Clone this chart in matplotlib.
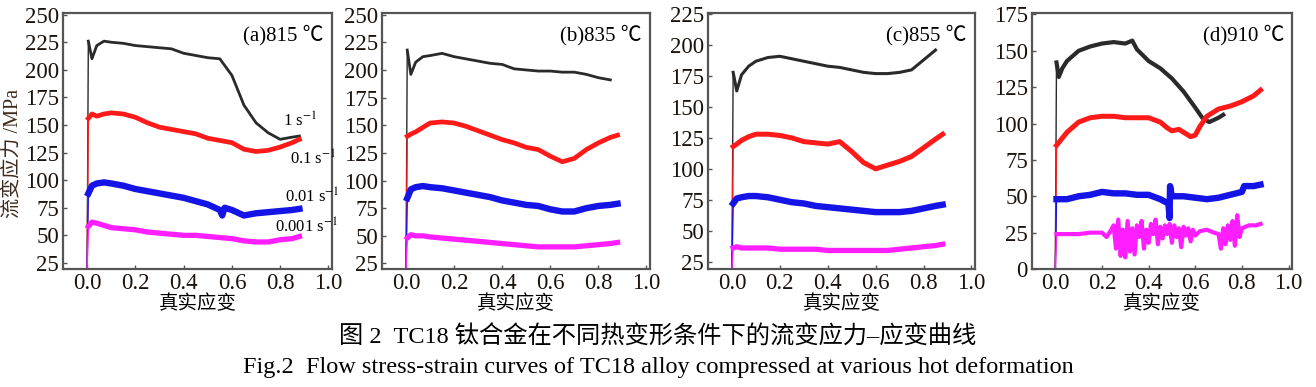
import matplotlib
matplotlib.use('Agg')
import matplotlib.pyplot as plt

plt.rcParams['font.family'] = ['Liberation Serif', 'Noto Sans CJK SC']
plt.rcParams['mathtext.fontset'] = 'stix'

# strain grids and flow stress (MPa)
g = [0, 0.005, 0.02, 0.04, 0.07, 0.1, 0.15, 0.2, 0.25, 0.3, 0.35, 0.4, 0.45,
     0.5, 0.55, 0.6, 0.65, 0.7, 0.75, 0.8, 0.85, 0.88]

# (a) 815 C
a_x_black = g
a_black = [20, 226, 210, 222, 226, 225, 224, 222, 221, 220, 219, 215, 213,
           211, 210, 195, 168, 152, 143, 137, 139, 140]
a_x_red = g
a_red = [20, 156, 160, 158, 160, 161, 160, 157, 152, 148, 146, 144, 142,
         138, 136, 134, 128, 126, 127, 130, 134, 137]
a_x_blue = [0, 0.005, 0.02, 0.04, 0.07, 0.1, 0.15, 0.2, 0.25, 0.3, 0.35, 0.4,
            0.45, 0.5, 0.55, 0.56, 0.57, 0.6, 0.65, 0.7, 0.75, 0.8, 0.85, 0.88]
a_blue = [20, 88, 95, 97, 98, 97, 95, 92, 90, 88, 86, 84, 81, 78, 73, 68, 75,
          73, 68, 70, 71, 72, 73, 74]
a_x_mag = g
a_mag = [20, 58, 62, 61, 59, 57, 56, 55, 53, 52, 51, 50, 50, 49, 48, 47, 45,
         44, 44, 46, 47, 49]

# (b) 835 C
b_x_black = g[:-1]
b_black = [20, 218, 196, 207, 212, 213, 215, 212, 210, 208, 206, 205, 201,
           200, 199, 199, 198, 198, 196, 193, 191]
b_x_red = g
b_red = [20, 140, 142, 144, 148, 152, 153, 152, 149, 145, 141, 137, 134,
         130, 128, 122, 117, 120, 128, 134, 139, 141]
b_x_blue = g
b_blue = [20, 84, 92, 94, 95, 94, 93, 91, 89, 87, 85, 82, 80, 78, 77, 74, 72,
          72, 75, 77, 78, 79]
b_x_mag = g
b_mag = [20, 48, 51, 50, 50, 49, 48, 47, 46, 45, 44, 43, 42, 41, 40, 40, 40,
         40, 41, 42, 43, 44]

# (c) 855 C
c_x_black = g[:-1]
c_black = [19, 178, 163, 176, 183, 187, 190, 191, 189, 187, 185, 183, 182,
           180, 178, 177, 177, 178, 180, 188, 196]
c_x_red = g
c_red = [19, 118, 120, 123, 126, 128, 128, 127, 125, 122, 121, 120, 122,
         114, 105, 100, 103, 106, 110, 117, 124, 128]
c_x_blue = g
c_blue = [19, 72, 76, 77, 78, 78, 77, 75, 73, 72, 70, 69, 68, 67, 66, 65, 65,
          65, 66, 68, 70, 71]
c_x_mag = g
c_mag = [19, 36, 37, 36, 36, 36, 36, 35, 35, 35, 35, 34, 34, 34, 34, 34, 34,
         35, 36, 37, 38, 39]

# (d) 910 C
d_x_black = [0, 0.005, 0.015, 0.03, 0.05, 0.1, 0.15, 0.2, 0.25, 0.3, 0.33,
             0.35, 0.4, 0.45, 0.5, 0.55, 0.6, 0.63, 0.66, 0.7, 0.72]
d_black = [0, 142, 132, 138, 143, 150, 153, 155, 156, 155, 157, 151, 143,
           138, 131, 122, 111, 104, 101, 104, 106]
d_x_red = [0, 0.005, 0.02, 0.05, 0.1, 0.15, 0.2, 0.25, 0.3, 0.35, 0.4, 0.45,
           0.48, 0.5, 0.53, 0.55, 0.58, 0.6, 0.62, 0.65, 0.7, 0.75, 0.8, 0.85,
           0.88]
d_red = [0, 85, 88, 94, 101, 104, 105, 105, 104, 104, 104, 101, 97, 95, 96,
         94, 91, 92, 98, 105, 110, 112, 115, 119, 123]
d_x_blue = [0, 0.005, 0.05, 0.1, 0.15, 0.2, 0.25, 0.3, 0.35, 0.4, 0.45, 0.485,
            0.49, 0.492, 0.5, 0.55, 0.6, 0.65, 0.7, 0.75, 0.8, 0.81, 0.85, 0.88]
d_blue = [0, 48, 48, 50, 51, 53, 52, 52, 51, 51, 48, 45, 35, 57, 50, 50, 49,
          48, 49, 51, 53, 57, 57, 58]
d_x_mag = [0, 0.005, 0.05, 0.1, 0.15, 0.2, 0.22, 0.24,
           0.25, 0.26, 0.27, 0.28, 0.29, 0.30, 0.31, 0.32, 0.33, 0.34, 0.35,
           0.36, 0.37, 0.38, 0.39, 0.40, 0.41, 0.42, 0.43, 0.44, 0.45, 0.46,
           0.47, 0.48, 0.49, 0.50, 0.51, 0.52, 0.53, 0.54, 0.55, 0.56, 0.57,
           0.58, 0.59, 0.60, 0.62, 0.65, 0.68, 0.70, 0.71, 0.72, 0.73, 0.74,
           0.75, 0.76, 0.77, 0.78, 0.79, 0.80, 0.83, 0.86, 0.88]
d_mag = [0, 24, 24, 24, 25, 25, 22, 27,
         30, 14, 34, 9, 27, 8, 33, 12, 28, 10, 30,
         22, 33, 14, 27, 18, 31, 24, 34, 17, 29, 21,
         30, 24, 31, 18, 30, 22, 28, 15, 29, 23, 28,
         19, 27, 23, 26, 27, 25, 24, 14, 28, 17, 30,
         20, 33, 16, 37, 22, 28, 30, 30, 31]

panels = [
    ('(a)815 ℃', (19.5, 251.5), [25, 50, 75, 100, 125, 150, 175, 200, 225, 250],
     [(a_x_black, a_black), (a_x_red, a_red), (a_x_blue, a_blue), (a_x_mag, a_mag)],
     [2.0, 3.4, 4.6, 3.8]),
    ('(b)835 ℃', (20, 251.5), [25, 50, 75, 100, 125, 150, 175, 200, 225, 250],
     [(b_x_black, b_black), (b_x_red, b_red), (b_x_blue, b_blue), (b_x_mag, b_mag)],
     [2.0, 3.4, 4.6, 3.8]),
    ('(c)855 ℃', (19, 226), [25, 50, 75, 100, 125, 150, 175, 200, 225],
     [(c_x_black, c_black), (c_x_red, c_red), (c_x_blue, c_blue), (c_x_mag, c_mag)],
     [2.2, 3.6, 4.6, 3.8]),
    ('(d)910 ℃', (0, 176), [0, 25, 50, 75, 100, 125, 150, 175],
     [(d_x_black, d_black), (d_x_red, d_red), (d_x_blue, d_blue), (d_x_mag, d_mag)],
     [3.0, 3.6, 4.6, 3.0]),
]
colors = ['#2a2a2a', '#ff1a1a', '#1414e6', '#ff1eff']
rate_labels = ['1 s$^{-1}$', '0.1 s$^{-1}$', '0.01 s$^{-1}$', '0.001 s$^{-1}$']
rate_pos = [(0.81, 153), (0.84, 119), (0.82, 85), (0.78, 57)]

W, H = 1316, 387
boxes = [(63, 332), (382, 650), (708, 975), (1032, 1292)]

fig = plt.figure(figsize=(13.16, 3.87), dpi=100)
for i, (title, ylim, yticks, curves, widths) in enumerate(panels):
    l, r = boxes[i]
    ax = fig.add_axes([l / W, (H - 269) / H, (r - l) / W, 256 / H])
    for (xs, ys), c, lw in zip(curves, colors, widths):
        ax.plot(xs[:2], ys[:2], color=c, lw=1.0)
        ax.plot(xs[1:], ys[1:], color=c, lw=lw, solid_joinstyle='round')
    ax.set_xlim(-0.1, 1.015)
    ax.set_ylim(*ylim)
    ax.set_xticks([0.0, 0.2, 0.4, 0.6, 0.8, 1.0])
    ax.set_xticklabels(['0.0', '0.2', '0.4', '0.6', '0.8', '1.0'])
    ax.set_yticks(yticks)
    ax.tick_params(direction='in', length=3, width=1, labelsize=16.5,
                   colors='#555555', labelcolor='#1a120c', pad=3)
    for s in ax.spines.values():
        s.set_color('#555555')
        s.set_linewidth(1.6)
    ax.text(0.97, 0.955, title, transform=ax.transAxes, ha='right', va='top',
            fontsize=15)
    ax.set_xlabel('真实应变', fontsize=14, labelpad=0)
    if i == 0:
        ax.set_ylabel('流变应力 /MPa', fontsize=14.5, color='#3d2a1e')
        ax.yaxis.set_label_coords(-0.15, 0.453)
        for lab, (x, y) in zip(rate_labels, rate_pos):
            ax.text(x, y, lab, fontsize=12, va='center')

fig.text(0.5, 1 - 337 / H, '图 2  TC18 钛合金在不同热变形条件下的流变应力–应变曲线',
         ha='center', va='center', fontsize=17.5)
fig.text(0.5, 1 - 368 / H,
         'Fig.2  Flow stress-strain curves of TC18 alloy compressed at various hot deformation',
         ha='center', va='center', fontsize=17.5)

fig.savefig('out.png', dpi=100)
